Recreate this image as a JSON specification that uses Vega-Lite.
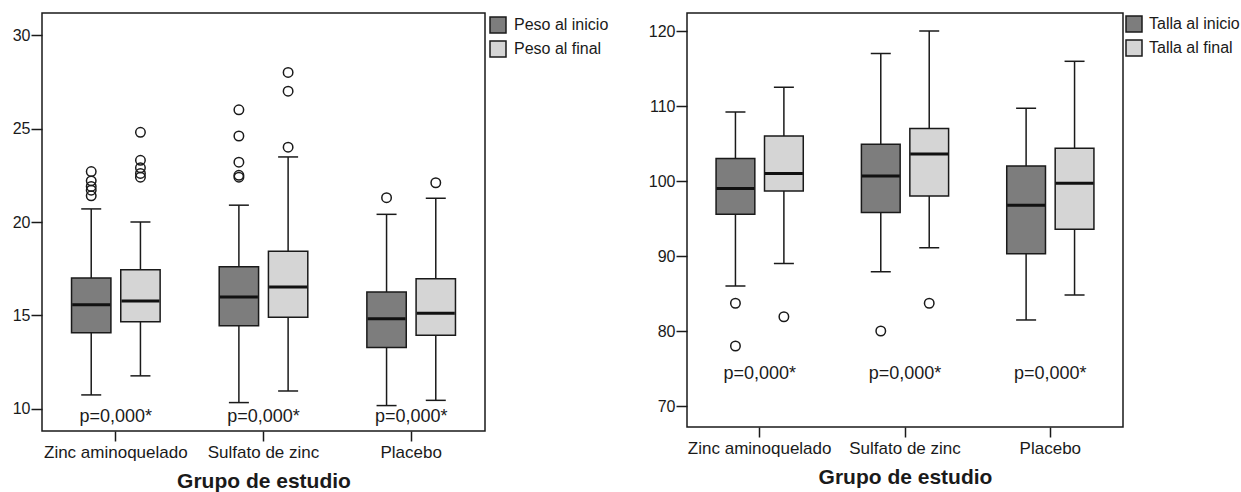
{
  "$schema": "https://vega.github.io/schema/vega-lite/v6.json",
  "background": "white",
  "padding": {"left": 10, "top": 12, "right": 0, "bottom": 0},
  "config": {
    "font": "Liberation Sans",
    "view": {"stroke": "#1a1a1a", "strokeWidth": 1.5},
    "axis": {"domain": false, "grid": false, "tickColor": "#1a1a1a", "tickWidth": 1.5, "labelColor": "#1a1a1a", "titleColor": "#1a1a1a", "labelFont": "Liberation Sans", "titleFont": "Liberation Sans"},
    "legend": {"title": null, "orient": "right", "offset": 1, "padding": 3, "symbolType": "square", "symbolSize": 256, "symbolStrokeColor": "#1a1a1a", "symbolStrokeWidth": 1.5, "labelFontSize": 16, "labelOffset": 7, "rowPadding": 2, "labelColor": "#1a1a1a", "labelFont": "Liberation Sans"},
    "concat": {"spacing": 33}
  },
  "datasets": {
    "peso": [
      {"grupo": "Zinc aminoquelado", "momento": "Peso al inicio", "lower": 10.75, "q1": 14.08, "median": 15.58, "q3": 17.0, "upper": 20.7},
      {"grupo": "Zinc aminoquelado", "momento": "Peso al final", "lower": 11.77, "q1": 14.67, "median": 15.78, "q3": 17.45, "upper": 20.0},
      {"grupo": "Sulfato de zinc", "momento": "Peso al inicio", "lower": 10.34, "q1": 14.45, "median": 15.99, "q3": 17.6, "upper": 20.9},
      {"grupo": "Sulfato de zinc", "momento": "Peso al final", "lower": 10.96, "q1": 14.9, "median": 16.52, "q3": 18.43, "upper": 23.48},
      {"grupo": "Placebo", "momento": "Peso al inicio", "lower": 10.18, "q1": 13.28, "median": 14.82, "q3": 16.26, "upper": 20.41},
      {"grupo": "Placebo", "momento": "Peso al final", "lower": 10.46, "q1": 13.94, "median": 15.12, "q3": 16.97, "upper": 21.27}
    ],
    "pesoOut": [
      {"grupo": "Zinc aminoquelado", "momento": "Peso al inicio", "valor": 22.7},
      {"grupo": "Zinc aminoquelado", "momento": "Peso al inicio", "valor": 22.2},
      {"grupo": "Zinc aminoquelado", "momento": "Peso al inicio", "valor": 21.9},
      {"grupo": "Zinc aminoquelado", "momento": "Peso al inicio", "valor": 21.7},
      {"grupo": "Zinc aminoquelado", "momento": "Peso al inicio", "valor": 21.4},
      {"grupo": "Zinc aminoquelado", "momento": "Peso al final", "valor": 24.8},
      {"grupo": "Zinc aminoquelado", "momento": "Peso al final", "valor": 23.3},
      {"grupo": "Zinc aminoquelado", "momento": "Peso al final", "valor": 22.9},
      {"grupo": "Zinc aminoquelado", "momento": "Peso al final", "valor": 22.6},
      {"grupo": "Zinc aminoquelado", "momento": "Peso al final", "valor": 22.4},
      {"grupo": "Sulfato de zinc", "momento": "Peso al inicio", "valor": 26.0},
      {"grupo": "Sulfato de zinc", "momento": "Peso al inicio", "valor": 24.6},
      {"grupo": "Sulfato de zinc", "momento": "Peso al inicio", "valor": 23.2},
      {"grupo": "Sulfato de zinc", "momento": "Peso al inicio", "valor": 22.5},
      {"grupo": "Sulfato de zinc", "momento": "Peso al inicio", "valor": 22.4},
      {"grupo": "Sulfato de zinc", "momento": "Peso al final", "valor": 28.0},
      {"grupo": "Sulfato de zinc", "momento": "Peso al final", "valor": 27.0},
      {"grupo": "Sulfato de zinc", "momento": "Peso al final", "valor": 24.0},
      {"grupo": "Placebo", "momento": "Peso al inicio", "valor": 21.3},
      {"grupo": "Placebo", "momento": "Peso al final", "valor": 22.1}
    ],
    "talla": [
      {"grupo": "Zinc aminoquelado", "momento": "Talla al inicio", "lower": 86.0, "q1": 95.56, "median": 99.0, "q3": 103.0, "upper": 109.2},
      {"grupo": "Zinc aminoquelado", "momento": "Talla al final", "lower": 89.0, "q1": 98.67, "median": 101.0, "q3": 106.0, "upper": 112.5},
      {"grupo": "Sulfato de zinc", "momento": "Talla al inicio", "lower": 87.9, "q1": 95.8, "median": 100.67, "q3": 104.9, "upper": 117.0},
      {"grupo": "Sulfato de zinc", "momento": "Talla al final", "lower": 91.1, "q1": 98.0, "median": 103.6, "q3": 107.0, "upper": 120.0},
      {"grupo": "Placebo", "momento": "Talla al inicio", "lower": 81.47, "q1": 90.3, "median": 96.76, "q3": 102.0, "upper": 109.7},
      {"grupo": "Placebo", "momento": "Talla al final", "lower": 84.8, "q1": 93.56, "median": 99.7, "q3": 104.36, "upper": 115.96}
    ],
    "tallaOut": [
      {"grupo": "Zinc aminoquelado", "momento": "Talla al inicio", "valor": 83.7},
      {"grupo": "Zinc aminoquelado", "momento": "Talla al inicio", "valor": 78.0},
      {"grupo": "Zinc aminoquelado", "momento": "Talla al final", "valor": 81.9},
      {"grupo": "Sulfato de zinc", "momento": "Talla al inicio", "valor": 80.0},
      {"grupo": "Sulfato de zinc", "momento": "Talla al final", "valor": 83.7}
    ],
    "ptext": [
      {"grupo": "Zinc aminoquelado", "label": "p=0,000*"},
      {"grupo": "Sulfato de zinc", "label": "p=0,000*"},
      {"grupo": "Placebo", "label": "p=0,000*"}
    ]
  },
  "hconcat": [
    {
      "width": 443,
      "height": 418,
      "encoding": {
        "x": {"field": "grupo", "type": "nominal", "sort": ["Zinc aminoquelado", "Sulfato de zinc", "Placebo"], "scale": {"paddingInner": 0, "paddingOuter": 0}, "axis": {"title": "Grupo de estudio", "labelAngle": 0, "tickSize": 10, "labelPadding": 3, "labelFontSize": 17, "titleFontSize": 21, "titleFontWeight": "bold", "titlePadding": 10}}
      },
      "layer": [
        {
          "data": {"name": "peso"},
          "mark": {"type": "rule", "color": "#1a1a1a", "strokeWidth": 1.5},
          "encoding": {
            "xOffset": {"field": "momento", "type": "nominal", "sort": ["Peso al inicio", "Peso al final"], "scale": {"paddingInner": 0.2, "paddingOuter": 0.6}},
            "y": {"field": "lower", "type": "quantitative", "scale": {"domain": [8.82, 31.18], "nice": false, "zero": false}, "axis": {"values": [10, 15, 20, 25, 30], "title": null, "tickSize": 11, "labelPadding": 1, "labelFontSize": 16, "minExtent": 31, "maxExtent": 31}},
            "y2": {"field": "upper"}
          }
        },
        {
          "data": {"name": "peso"},
          "mark": {"type": "bar", "stroke": "#1a1a1a", "strokeWidth": 1.5, "opacity": 1},
          "encoding": {
            "xOffset": {"field": "momento", "type": "nominal", "sort": ["Peso al inicio", "Peso al final"], "scale": {"paddingInner": 0.2, "paddingOuter": 0.6}},
            "y": {"field": "q1", "type": "quantitative", "scale": {"domain": [8.82, 31.18], "nice": false, "zero": false}},
            "y2": {"field": "q3"},
            "color": {"field": "momento", "type": "nominal", "scale": {"domain": ["Peso al inicio", "Peso al final"], "range": ["#7d7d7d", "#d5d5d5"]}}
          }
        },
        {
          "data": {"name": "peso"},
          "mark": {"type": "tick", "size": 20, "thickness": 1.5, "color": "#1a1a1a", "opacity": 1},
          "encoding": {
            "xOffset": {"field": "momento", "type": "nominal", "sort": ["Peso al inicio", "Peso al final"], "scale": {"paddingInner": 0.2, "paddingOuter": 0.6}},
            "y": {"field": "upper", "type": "quantitative", "scale": {"domain": [8.82, 31.18], "nice": false, "zero": false}}
          }
        },
        {
          "data": {"name": "peso"},
          "mark": {"type": "tick", "size": 20, "thickness": 1.5, "color": "#1a1a1a", "opacity": 1},
          "encoding": {
            "xOffset": {"field": "momento", "type": "nominal", "sort": ["Peso al inicio", "Peso al final"], "scale": {"paddingInner": 0.2, "paddingOuter": 0.6}},
            "y": {"field": "lower", "type": "quantitative", "scale": {"domain": [8.82, 31.18], "nice": false, "zero": false}}
          }
        },
        {
          "data": {"name": "peso"},
          "mark": {"type": "tick", "size": 38, "thickness": 3, "color": "#111111", "opacity": 1},
          "encoding": {
            "xOffset": {"field": "momento", "type": "nominal", "sort": ["Peso al inicio", "Peso al final"], "scale": {"paddingInner": 0.2, "paddingOuter": 0.6}},
            "y": {"field": "median", "type": "quantitative", "scale": {"domain": [8.82, 31.18], "nice": false, "zero": false}}
          }
        },
        {
          "data": {"name": "pesoOut"},
          "mark": {"type": "point", "shape": "circle", "filled": false, "size": 90, "stroke": "#1a1a1a", "strokeWidth": 1.5, "opacity": 1},
          "encoding": {
            "xOffset": {"field": "momento", "type": "nominal", "sort": ["Peso al inicio", "Peso al final"], "scale": {"paddingInner": 0.2, "paddingOuter": 0.6}},
            "y": {"field": "valor", "type": "quantitative", "scale": {"domain": [8.82, 31.18], "nice": false, "zero": false}}
          }
        },
        {
          "data": {"name": "ptext"},
          "mark": {"type": "text", "fontSize": 18, "color": "#1a1a1a", "baseline": "middle", "font": "Liberation Sans"},
          "encoding": {
            "y": {"datum": 9.59, "type": "quantitative", "scale": {"domain": [8.82, 31.18], "nice": false, "zero": false}},
            "text": {"field": "label"}
          }
        }
      ]
    },
    {
      "width": 436,
      "height": 414,
      "encoding": {
        "x": {"field": "grupo", "type": "nominal", "sort": ["Zinc aminoquelado", "Sulfato de zinc", "Placebo"], "scale": {"paddingInner": 0, "paddingOuter": 0}, "axis": {"title": "Grupo de estudio", "labelAngle": 0, "tickSize": 10, "labelPadding": 3, "labelFontSize": 17, "titleFontSize": 21, "titleFontWeight": "bold", "titlePadding": 10}}
      },
      "layer": [
        {
          "data": {"name": "talla"},
          "mark": {"type": "rule", "color": "#1a1a1a", "strokeWidth": 1.5},
          "encoding": {
            "xOffset": {"field": "momento", "type": "nominal", "sort": ["Talla al inicio", "Talla al final"], "scale": {"paddingInner": 0.2, "paddingOuter": 0.6}},
            "y": {"field": "lower", "type": "quantitative", "scale": {"domain": [67.2, 122.4], "nice": false, "zero": false}, "axis": {"values": [70, 80, 90, 100, 110, 120], "title": null, "tickSize": 11, "labelPadding": 1, "labelFontSize": 16, "minExtent": 40, "maxExtent": 40}},
            "y2": {"field": "upper"}
          }
        },
        {
          "data": {"name": "talla"},
          "mark": {"type": "bar", "stroke": "#1a1a1a", "strokeWidth": 1.5, "opacity": 1},
          "encoding": {
            "xOffset": {"field": "momento", "type": "nominal", "sort": ["Talla al inicio", "Talla al final"], "scale": {"paddingInner": 0.2, "paddingOuter": 0.6}},
            "y": {"field": "q1", "type": "quantitative", "scale": {"domain": [67.2, 122.4], "nice": false, "zero": false}},
            "y2": {"field": "q3"},
            "color": {"field": "momento", "type": "nominal", "scale": {"domain": ["Talla al inicio", "Talla al final"], "range": ["#7d7d7d", "#d5d5d5"]}, "legend": {"offset": 0, "padding": 2, "labelOffset": 6}}
          }
        },
        {
          "data": {"name": "talla"},
          "mark": {"type": "tick", "size": 20, "thickness": 1.5, "color": "#1a1a1a", "opacity": 1},
          "encoding": {
            "xOffset": {"field": "momento", "type": "nominal", "sort": ["Talla al inicio", "Talla al final"], "scale": {"paddingInner": 0.2, "paddingOuter": 0.6}},
            "y": {"field": "upper", "type": "quantitative", "scale": {"domain": [67.2, 122.4], "nice": false, "zero": false}}
          }
        },
        {
          "data": {"name": "talla"},
          "mark": {"type": "tick", "size": 20, "thickness": 1.5, "color": "#1a1a1a", "opacity": 1},
          "encoding": {
            "xOffset": {"field": "momento", "type": "nominal", "sort": ["Talla al inicio", "Talla al final"], "scale": {"paddingInner": 0.2, "paddingOuter": 0.6}},
            "y": {"field": "lower", "type": "quantitative", "scale": {"domain": [67.2, 122.4], "nice": false, "zero": false}}
          }
        },
        {
          "data": {"name": "talla"},
          "mark": {"type": "tick", "size": 38, "thickness": 3, "color": "#111111", "opacity": 1},
          "encoding": {
            "xOffset": {"field": "momento", "type": "nominal", "sort": ["Talla al inicio", "Talla al final"], "scale": {"paddingInner": 0.2, "paddingOuter": 0.6}},
            "y": {"field": "median", "type": "quantitative", "scale": {"domain": [67.2, 122.4], "nice": false, "zero": false}}
          }
        },
        {
          "data": {"name": "tallaOut"},
          "mark": {"type": "point", "shape": "circle", "filled": false, "size": 90, "stroke": "#1a1a1a", "strokeWidth": 1.5, "opacity": 1},
          "encoding": {
            "xOffset": {"field": "momento", "type": "nominal", "sort": ["Talla al inicio", "Talla al final"], "scale": {"paddingInner": 0.2, "paddingOuter": 0.6}},
            "y": {"field": "valor", "type": "quantitative", "scale": {"domain": [67.2, 122.4], "nice": false, "zero": false}}
          }
        },
        {
          "data": {"name": "ptext"},
          "mark": {"type": "text", "fontSize": 18, "color": "#1a1a1a", "baseline": "middle", "font": "Liberation Sans"},
          "encoding": {
            "y": {"datum": 74.27, "type": "quantitative", "scale": {"domain": [67.2, 122.4], "nice": false, "zero": false}},
            "text": {"field": "label"}
          }
        }
      ]
    }
  ],
  "resolve": {"scale": {"color": "independent", "x": "independent", "y": "independent", "xOffset": "independent"}, "legend": {"color": "independent"}}
}
